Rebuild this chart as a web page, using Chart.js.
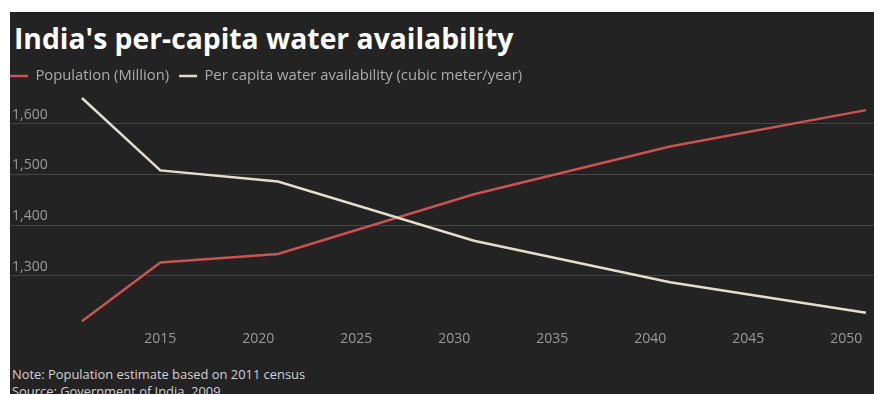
<!DOCTYPE html>
<html>
<head>
<meta charset="utf-8">
<script src="https://cdn.jsdelivr.net/npm/chart.js@4/dist/chart.umd.min.js"></script>
<style>
html,body{margin:0;padding:0;background:#fff;width:878px;height:394px;overflow:hidden;}
#panel{position:absolute;left:10px;top:12px;width:864px;height:382px;background:#232323;overflow:hidden;}
#title{position:absolute;left:4px;top:12px;font-family:'Open Sans';font-weight:700;font-size:28.3px;line-height:29px;color:#fff;white-space:nowrap;}
#wrap{position:absolute;left:-10px;top:0;width:874px;height:340px;}
.note{position:absolute;left:2px;font-family:'Open Sans';font-size:12.9px;line-height:16px;color:#d2d2d2;white-space:nowrap;}
</style>
</head>
<body>
<div id="panel">
  <div id="title">India's per-capita water availability</div>
  <div id="wrap"><canvas id="c" width="874" height="340"></canvas></div>
  <div class="note" style="top:354px">Note: Population estimate based on 2011 census</div>
  <div class="note" style="top:371px">Source: Government of India, 2009</div>
</div>
<script>
const years = [2011, 2015, 2021, 2031, 2041, 2051];
const population = [1210, 1326, 1343, 1461, 1555, 1627];
const waterAvailability = [1651, 1508, 1486, 1369, 1287, 1227];
const xTickLabels = [2015, 2020, 2025, 2030, 2035, 2040, 2045, 2050];
const yTickLabels = [1300, 1400, 1500, 1600];
const seriesNames = ['Population (Million)', 'Per capita water availability (cubic meter/year)'];

const toPoints = (vals) => years.map((y, i) => ({x: y, y: vals[i]}));

new Chart(document.getElementById('c'), {
  type: 'line',
  data: {
    datasets: [
      {label: seriesNames[0], data: toPoints(population), borderColor: '#c9534d', backgroundColor: '#c9534d', borderWidth: 2.5, pointRadius: 0, tension: 0, order: 1},
      {label: seriesNames[1], data: toPoints(waterAvailability), borderColor: '#e6dccb', backgroundColor: '#e6dccb', borderWidth: 2.5, pointRadius: 0, tension: 0, order: 0}
    ]
  },
  options: {
    responsive: false,
    devicePixelRatio: 1,
    animation: false,
    layout: {padding: {top: 46.6, bottom: 0.8, left: 0, right: 0}},
    plugins: {
      tooltip: {enabled: false},
      legend: {
        display: true,
        position: 'top',
        align: 'start',
        labels: {
          usePointStyle: true,
          pointStyle: 'line',
          pointStyleWidth: 18,
          boxWidth: 18,
          padding: 10,
          color: '#acacac',
          font: {family: 'Open Sans', size: 14.8},
          sort: (a, b) => a.datasetIndex - b.datasetIndex
        }
      }
    },
    scales: {
      x: {
        type: 'linear',
        min: 2006.82,
        max: 2051.41,
        afterBuildTicks: (s) => { s.ticks = xTickLabels.map(v => ({value: v})); },
        grid: {display: false, drawTicks: false},
        border: {display: false},
        ticks: {
          padding: 4,
          color: '#9a9a9a',
          font: {family: 'Open Sans', size: 14},
          callback: (v) => String(v),
          maxRotation: 0,
          autoSkip: false
        }
      },
      y: {
        type: 'linear',
        min: 1200,
        max: 1660,
        afterBuildTicks: (s) => { s.ticks = yTickLabels.map(v => ({value: v})); },
        afterFit: (s) => { s.width = 0; },
        grid: {color: '#454545', lineWidth: 1, drawTicks: false},
        border: {display: false},
        ticks: {
          mirror: true,
          padding: 12,
          labelOffset: -9,
          color: '#9a9a9a',
          font: {family: 'Open Sans', size: 14},
          callback: (v) => v.toLocaleString('en-US')
        }
      }
    }
  }
});
</script>
</body>
</html>
